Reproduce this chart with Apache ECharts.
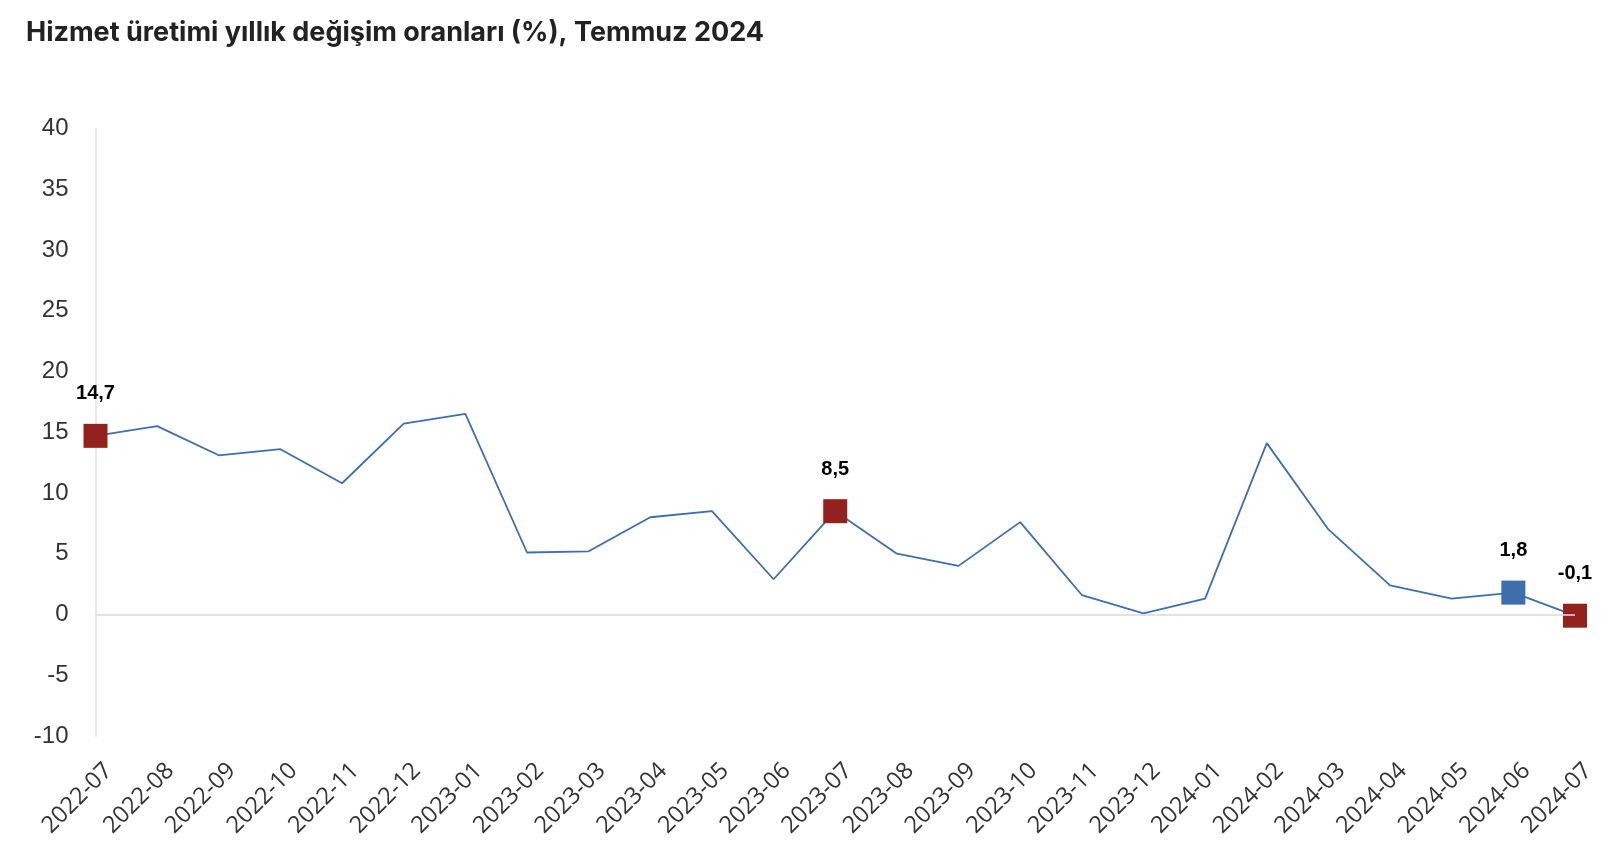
<!DOCTYPE html>
<html>
<head>
<meta charset="utf-8">
<script src="https://cdn.jsdelivr.net/npm/echarts@6/dist/echarts.min.js"></script>
<style>
html,body{margin:0;padding:0;background:#fff;}
#chart{width:1610px;height:866px;}
</style>
</head>
<body>
<div id="chart"></div>
<script>
const titleText = 'Hizmet üretimi yıllık değişim oranları (%), Temmuz 2024';
const categories = ['2022-07','2022-08','2022-09','2022-10','2022-11','2022-12','2023-01','2023-02','2023-03','2023-04','2023-05','2023-06','2023-07','2023-08','2023-09','2023-10','2023-11','2023-12','2024-01','2024-02','2024-03','2024-04','2024-05','2024-06','2024-07'];
const values = [14.7,15.5,13.1,13.6,10.8,15.7,16.5,5.1,5.2,8.0,8.5,2.9,8.5,5.0,4.0,7.6,1.6,0.1,1.3,14.1,7.0,2.4,1.3,1.8,-0.1];
const redMarkers = ['2022-07','2023-07','2024-07'];
const blueMarkers = ['2024-06'];
const yTicks = [-10,-5,0,5,10,15,20,25,30,35,40];

const fmt = v => v.toFixed(1).replace('.', ',');
const markerData = (cats) => cats.map(c => [c, values[categories.indexOf(c)]]);

const labelCfg = {
  show: true,
  position: 'top',
  distance: 20,
  color: '#000',
  fontFamily: 'Liberation Sans',
  fontWeight: 'bold',
  fontSize: 20,
  formatter: p => fmt(p.value[1])
};

const chart = echarts.init(document.getElementById('chart'));
chart.setOption({
  animation: false,
  backgroundColor: '#fff',
  title: {
    text: titleText,
    left: 21, top: 14,
    textStyle: {fontFamily: 'Inter', fontWeight: 'bold', fontSize: 27, color: '#222'}
  },
  grid: {left: 95.5, right: 35, top: 128.4, bottom: 130},
  xAxis: {
    type: 'category',
    data: categories,
    boundaryGap: false,
    axisLine: {lineStyle: {color: '#e0e0e0', width: 1.5}},
    axisTick: {show: false},
    axisLabel: {rotate: 45, fontFamily: 'Open Sans', fontSize: 23.5, lineHeight: 37, color: '#333', margin: 18, interval: 0, verticalAlign: 'top'}
  },
  yAxis: {
    type: 'value',
    min: yTicks[0], max: yTicks[yTicks.length-1], interval: 5,
    axisLine: {show: true, lineStyle: {color: '#e0e0e0', width: 1.5}},
    axisTick: {show: false},
    splitLine: {show: false},
    axisLabel: {fontFamily: 'Liberation Sans', fontSize: 24, color: '#333', margin: 27}
  },
  series: [
    {
      type: 'line',
      data: values,
      symbol: 'none',
      lineStyle: {color: '#3d6fae', width: 1.8},
      z: 2,
      markLine: {
        silent: true, symbol: 'none', label: {show: false},
        lineStyle: {color: '#e0e0e0', type: 'solid', width: 1.5},
        data: [{yAxis: 0}]
      }
    },
    {
      type: 'scatter',
      data: markerData(redMarkers),
      symbol: 'rect',
      symbolSize: [24, 24],
      itemStyle: {color: '#93221f', opacity: 1},
      label: labelCfg,
      z: 3
    },
    {
      type: 'scatter',
      data: markerData(blueMarkers),
      symbol: 'rect',
      symbolSize: [24, 24],
      itemStyle: {color: '#3d6fae', opacity: 1},
      label: labelCfg,
      z: 3
    }
  ]
});
</script>
</body>
</html>
